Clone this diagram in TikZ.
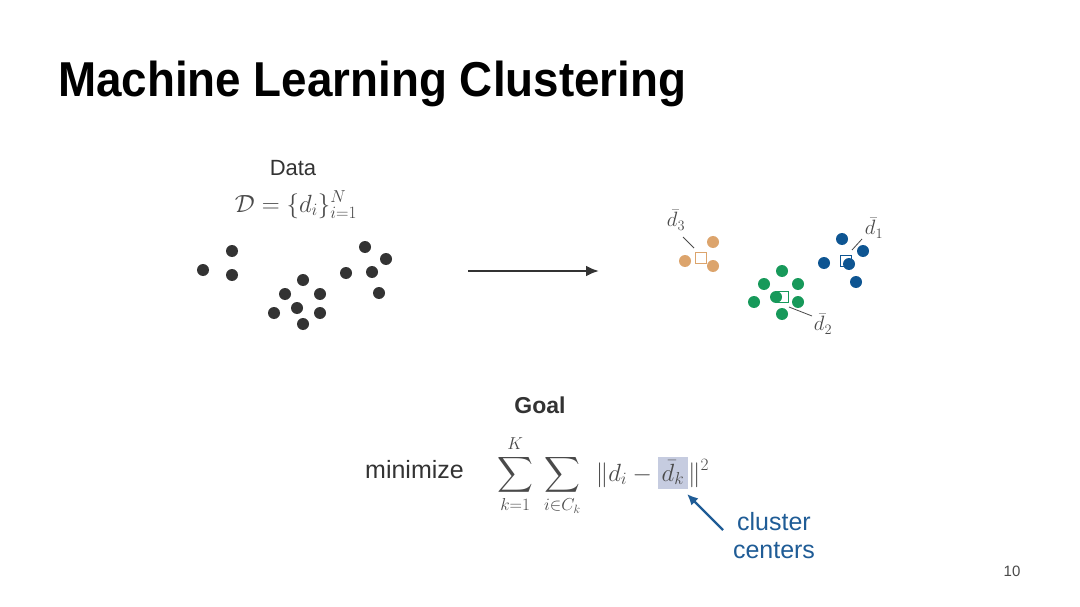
\documentclass[tikz,border=0pt]{standalone}
\usepackage{amsmath}
\usepackage{fontspec}
\setmainfont{Liberation Sans}
\usetikzlibrary{arrows.meta}
\definecolor{ptgray}{HTML}{333333}
\definecolor{txtgray}{HTML}{4A4A4A}
\definecolor{corange}{HTML}{DCA46C}
\definecolor{cblue}{HTML}{0E5592}
\definecolor{cgreen}{HTML}{17995A}
\definecolor{hl}{HTML}{C6CCE0}
\definecolor{annblue}{HTML}{1F5C96}
\tikzset{
  dot/.style={circle, fill=#1, inner sep=0pt, minimum size=12pt},
  dot/.default=ptgray,
  centerbox/.style={draw=#1, fill=white, inner sep=0pt, minimum size=11pt, line width=1.2pt},
  leader/.style={draw=txtgray, line width=0.8pt},
  lbl/.style={text=txtgray, font=\fontsize{22}{26}\selectfont, inner sep=0pt},
}
\begin{document}
\begin{tikzpicture}[x=1pt,y=-1pt]
\useasboundingbox[fill=white] (0,0) rectangle (1080,607);

% Title
\node[anchor=base west, inner sep=0pt, text=black] (title) at (58,97)
  {\scalebox{0.934}[1]{\fontsize{49}{56}\selectfont\bfseries Machine Learning Clustering}};

% Data heading
\node[anchor=base, inner sep=0pt, text=ptgray, font=\fontsize{22}{26}\selectfont] (data) at (293,176) {Data};
\node[anchor=base, inner sep=0pt, text=txtgray, font=\fontsize{24}{28}\selectfont] (dset) at (296,212)
  {$\mathcal{D}=\{d_i\}_{i=1}^{N}$};

% Unclustered points
\node[dot] (p1) at (203,270) {};
\node[dot] (p2) at (232,251) {};
\node[dot] (p3) at (232,275) {};
\node[dot] (p4) at (303,280) {};
\node[dot] (p5) at (285,294) {};
\node[dot] (p6) at (320,294) {};
\node[dot] (p7) at (297,308) {};
\node[dot] (p8) at (274,313) {};
\node[dot] (p9) at (320,313) {};
\node[dot] (p10) at (303,324) {};
\node[dot] (p11) at (346,273) {};
\node[dot] (p12) at (365,247) {};
\node[dot] (p13) at (386,259) {};
\node[dot] (p14) at (372,272) {};
\node[dot] (p15) at (379,293) {};

% Main arrow
\coordinate (a0) at (468,271);
\coordinate (a1) at (599,271);
\draw[-{Latex[length=13pt,width=11pt]}, line width=2.4pt, ptgray] (a0) -- (a1);

% Orange cluster
\node[centerbox=corange] (c3) at (701,258) {};
\node[dot=corange] (o1) at (685,261) {};
\node[dot=corange] (o2) at (713,242) {};
\node[dot=corange] (o3) at (713,266) {};
\node[lbl] (l3) at (676,220) {$\bar d_3$};
\coordinate (l3a) at (683,237);
\coordinate (l3b) at (694,248);
\draw[leader] (l3a) -- (l3b);

% Blue cluster
\node[centerbox=cblue] (c1) at (846,261) {};
\node[dot=cblue] (b1) at (842,239) {};
\node[dot=cblue] (b2) at (863,251) {};
\node[dot=cblue] (b3) at (824,263) {};
\node[dot=cblue] (b4) at (849,264) {};
\node[dot=cblue] (b5) at (856,282) {};
\node[lbl] (l1) at (874,228) {$\bar d_1$};
\coordinate (l1a) at (862,239);
\coordinate (l1b) at (852,250);
\draw[leader] (l1a) -- (l1b);

% Green cluster
\node[centerbox=cgreen] (c2) at (783,297) {};
\node[dot=cgreen] (g1) at (782,271) {};
\node[dot=cgreen] (g2) at (764,284) {};
\node[dot=cgreen] (g3) at (798,284) {};
\node[dot=cgreen] (g4) at (754,302) {};
\node[dot=cgreen] (g5) at (776,297) {};
\node[dot=cgreen] (g6) at (798,302) {};
\node[dot=cgreen] (g7) at (782,314) {};
\node[lbl] (l2) at (823,324) {$\bar d_2$};
\coordinate (l2a) at (789,307);
\coordinate (l2b) at (812,316);
\draw[leader] (l2a) -- (l2b);

% Goal
\node[anchor=base, inner sep=0pt, text=ptgray, font=\fontsize{23}{27}\selectfont\bfseries] (goal) at (540,413) {Goal};
\node[anchor=base west, inner sep=0pt, text=ptgray, font=\fontsize{25}{30}\selectfont] (minw) at (365,478) {minimize};
\node[anchor=base west, inner sep=0pt, text=txtgray, font=\fontsize{26}{30}\selectfont] (obj) at (497,481)
  {\setlength{\fboxsep}{4pt}$\displaystyle\sum_{k=1}^{K}\;\sum_{i\in C_k}\;\,\|d_i-\colorbox{hl}{$\bar d_k$}\|^2$};

% Annotation
\node[anchor=center, inner sep=0pt, align=center, text=annblue, font=\fontsize{25}{28}\selectfont] (cc) at (774,536) {cluster\\centers};
\coordinate (t0) at (723,530);
\coordinate (t1) at (687,494);
\draw[-{Latex[length=11pt,width=10pt]}, line width=2.2pt, annblue] (t0) -- (t1);

% Page number
\node[anchor=base, inner sep=0pt, text=txtgray, font=\fontsize{15}{18}\selectfont] (pg) at (1012,576) {10};
\end{tikzpicture}
\end{document}
